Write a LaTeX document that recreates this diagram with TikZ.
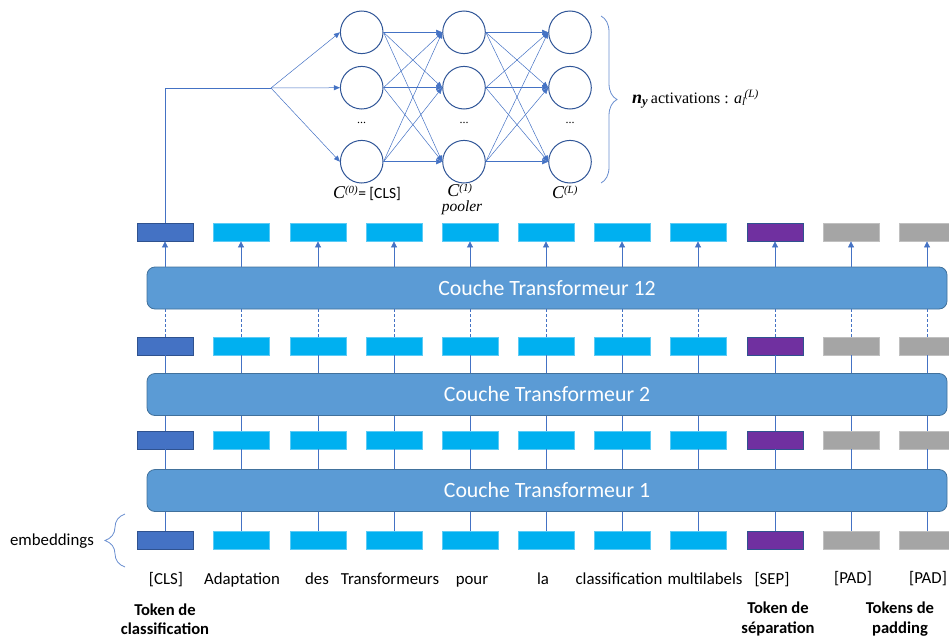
\documentclass[tikz,border=0pt]{standalone}
\usepackage{fontspec}
\setmainfont{Carlito}
\newfontfamily\serifx{Liberation Serif}
\usetikzlibrary{arrows.meta,decorations.pathreplacing,calc}
\definecolor{tokcyan}{HTML}{00B0F0}
\definecolor{tokcyanb}{HTML}{5CCBF5}
\definecolor{clsblue}{HTML}{4472C4}
\definecolor{clsborder}{HTML}{2F528F}
\definecolor{seppurple}{HTML}{7030A0}
\definecolor{padgray}{HTML}{A5A5A5}
\definecolor{padgrayb}{HTML}{C0C0C0}
\definecolor{layerfill}{HTML}{5B9BD5}
\definecolor{layerborder}{HTML}{41719C}
\definecolor{linkblue}{HTML}{4472C4}
\definecolor{circborder}{HTML}{2F5597}
\begin{document}
\begin{tikzpicture}[x=1pt,y=-1pt,
 tokbox/.style={minimum width=56pt,minimum height=18pt,inner sep=0pt,line width=0.8pt},
 layerbox/.style={draw=layerborder,fill=layerfill,rounded corners=8pt,line width=0.8pt,
   minimum width=800pt,minimum height=42pt,inner sep=0pt,text=white,font=\fontsize{21.8}{25}\selectfont},
 link/.style={draw=linkblue,line width=0.7pt},
 dashlink/.style={link,dash pattern=on 3pt off 2pt},
 uparrow/.style={link,-{Triangle[length=6pt,width=6pt]}},
 netarrow/.style={draw=linkblue,line width=0.5pt,-{Triangle[length=6pt,width=5pt]}},
 neuron/.style={circle,draw=circborder,line width=1pt,minimum size=42.6pt,inner sep=0pt},
 wordlbl/.style={font=\fontsize{16.8}{19}\selectfont,inner sep=0pt,anchor=base},
 boldlbl/.style={font=\fontsize{16.6}{19.5}\selectfont\bfseries,align=center,inner sep=0pt},
 clbl/.style={font=\fontsize{15.5}{18}\selectfont,inner sep=0pt},
 dotlbl/.style={font=\serifx\fontsize{12}{14}\selectfont,inner sep=0pt},
 bracestyle/.style={draw=linkblue!80!white,line width=0.8pt,decorate}
]
\useasboundingbox (0,0) rectangle (949,637);

% transformer layers
\node[layerbox] (L12) at (547,288) {Couche Transformeur 12};
\node[layerbox] (L2) at (547,394.5) {Couche Transformeur 2};
\node[layerbox] (L1) at (547,490.5) {Couche Transformeur 1};

% token rows
\foreach \x/\f/\d [count=\i] in {165/clsblue/clsborder,241/tokcyan/tokcyanb,318/tokcyan/tokcyanb,
  394/tokcyan/tokcyanb,470/tokcyan/tokcyanb,546/tokcyan/tokcyanb,622/tokcyan/tokcyanb,
  698/tokcyan/tokcyanb,775/seppurple/clsborder,851/padgray/padgrayb,927/padgray/padgrayb}{
  \node[tokbox,fill=\f,draw=\d] (t1-\i) at (\x,232) {};
  \node[tokbox,fill=\f,draw=\d] (t2-\i) at (\x,346) {};
  \node[tokbox,fill=\f,draw=\d] (t3-\i) at (\x,440) {};
  \node[tokbox,fill=\f,draw=\d] (t4-\i) at (\x,540) {};
  \draw[link] (t4-\i.north) -- (t4-\i.north |- L1.south);
  \draw[link] (L1.north -| t3-\i) -- (t3-\i.south);
  \draw[link] (t3-\i.north) -- (t3-\i.north |- L2.south);
  \draw[link] (L2.north -| t2-\i) -- (t2-\i.south);
  \draw[dashlink] (t2-\i.north) -- (t2-\i.north |- L12.south);
  \draw[uparrow] (L12.north -| t1-\i) -- (t1-\i.south);
}

% word labels
\node[wordlbl] (w1) at (166,584) {[CLS]};
\node[wordlbl] (w2) at (242,584) {Adaptation};
\node[wordlbl] (w3) at (317,584) {des};
\node[wordlbl] (w4) at (390,584) {Transformeurs};
\node[wordlbl] (w5) at (472,584) {pour};
\node[wordlbl] (w6) at (543,584) {la};
\node[wordlbl] (w7) at (619,584) {classification};
\node[wordlbl] (w8) at (705,584) {multilabels};
\node[wordlbl] (w9) at (772,584) {[SEP]};
\node[wordlbl] (w10) at (853,583) {[PAD]};
\node[wordlbl] (w11) at (928,583) {[PAD]};

\node[boldlbl] (b1) at (165,619) {Token de\\classification};
\node[boldlbl] (b2) at (778,619) {Token de\\séparation};
\node[boldlbl] (b3) at (900,619) {Tokens de\\padding};

% embeddings brace
\node[font=\fontsize{16.8}{19}\selectfont,inner sep=0pt] (emb) at (52,541) {embeddings};
\draw[bracestyle,decoration={brace,amplitude=20pt}] (125,567) -- (125,514);

% network
\foreach \n/\x in {a/361.7,b/464,c/570}{
  \node[neuron] (\n1) at (\x,32.3) {};
  \node[neuron] (\n2) at (\x,87.7) {};
  \node[neuron] (\n3) at (\x,161.7) {};
  \node[dotlbl] (\n d) at (\x,123) {...};
}
\coordinate (br) at (271,88);
\draw[link] (t1-1.north) |- (br);
\foreach \t in {a1,a2,a3} \draw[netarrow] (br) -- (\t.west);
\foreach \s in {a1,a2,a3} \foreach \t in {b1,b2,b3} \draw[netarrow] (\s.east) -- (\t.west);
\foreach \s in {b1,b2,b3} \foreach \t in {c1,c2,c3} \draw[netarrow] (\s.east) -- (\t.west);

\node[clbl] (cl0) at (367,193) {{\serifx\itshape{\fontsize{18}{20}\selectfont C}\textsuperscript{(0)}}= [CLS]};
\node[clbl] (cl1) at (460,190) {{\serifx\itshape{\fontsize{18}{20}\selectfont C}\textsuperscript{(1)}}};
\node[clbl] (pool) at (462,208) {{\serifx\itshape pooler}};
\node[clbl] (clL) at (565,192) {{\serifx\itshape{\fontsize{18}{20}\selectfont C}\textsuperscript{(L)}}};

% output brace
\draw[bracestyle,decoration={brace,amplitude=16pt}] (601,16) -- (601,183);
\node[anchor=west,inner sep=0pt,font=\serifx\fontsize{16}{19}\selectfont] (act) at (632,99)
  {{\bfseries\itshape\fontsize{18}{20}\selectfont n\textsubscript{y}}\,activations : \textit{a}\textsubscript{\textit{l}}\kern-1pt\textsuperscript{\textit{(L)}}};
\end{tikzpicture}
\end{document}
